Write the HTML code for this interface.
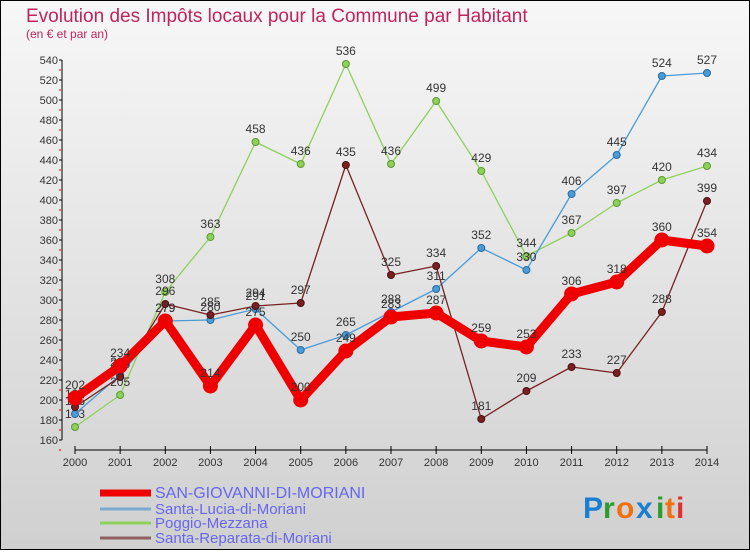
<!DOCTYPE html>
<html><head><meta charset="utf-8"><style>
body{margin:0;width:750px;height:550px;overflow:hidden;font-family:"Liberation Sans",sans-serif}
</style></head><body>
<svg id="chart" width="750" height="550" xmlns="http://www.w3.org/2000/svg">
<defs><linearGradient id="bg" x1="0" y1="0" x2="0" y2="1"><stop offset="0" stop-color="#f7f7f7"/><stop offset="1" stop-color="#d0d0d0"/></linearGradient></defs>
<rect x="0.5" y="0.5" width="749" height="549" fill="url(#bg)" stroke="#000"/>
<text x="26" y="22" font-size="19" fill="#c0245c">Evolution des Impôts locaux pour la Commune par Habitant</text>
<text x="26" y="38" font-size="12" fill="#c0245c">(en € et par an)</text>
<g id="axes"></g><g id="series"></g><g id="legend"></g>
<g font-size="30" font-weight="bold" font-family="'Liberation Sans',sans-serif">
<text x="583" y="518" fill="#1a7fd0">P</text><text x="603" y="518" fill="#2c9c2c">r</text><text x="616" y="518" fill="#f07010">o</text><text x="636" y="518" fill="#1a7fd0">x</text><text x="656" y="518" fill="#2c9c2c">i</text><text x="665" y="518" fill="#f07010">t</text><text x="676" y="518" fill="#e03030">i</text>
</g>
</svg>
<script>
const years=[2000,2001,2002,2003,2004,2005,2006,2007,2008,2009,2010,2011,2012,2013,2014];
const sanGiovanni=[202,234,279,214,275,200,249,283,287,259,253,306,318,360,354];
const santaLucia=[186,225,279,280,291,250,265,288,311,352,330,406,445,524,527];
const poggio=[173,205,308,363,458,436,536,436,499,429,344,367,397,420,434];
const santaReparata=[193,223,296,285,294,297,435,325,334,181,209,233,227,288,399];
const yTicks=[160,180,200,220,240,260,280,300,320,340,360,380,400,420,440,460,480,500,520,540];
const NS="http://www.w3.org/2000/svg";
const xS=i=>75+i*(632/14), yS=v=>600-v;
function mk(t,a,p){const e=document.createElementNS(NS,t);for(const k in a)e.setAttribute(k,a[k]);p.appendChild(e);return e;}
const ax=document.getElementById('axes');
const yl=mk('line',{x1:62,y1:yS(540),x2:62,y2:yS(160),stroke:'#000'},ax);


yTicks.forEach(v=>{
 const t=mk('text',{x:58,y:yS(v)+4,'font-size':11,fill:'#333','text-anchor':'end'},ax);t.textContent=v;
 
 
 mk('line',{x1:59,y1:yS(v),x2:62,y2:yS(v),stroke:'#000'},ax);
 mk('line',{x1:59,y1:yS(v)+10,x2:61,y2:yS(v)+10,stroke:'#e00'},ax);
});
const xl=mk('line',{x1:75,y1:450,x2:707,y2:450,stroke:'#000'},ax);


years.forEach((y,i)=>{
 mk('line',{x1:xS(i),y1:446,x2:xS(i),y2:454,stroke:'#000'},ax);
 const t=mk('text',{x:xS(i),y:466,'font-size':11,fill:'#333','text-anchor':'middle'},ax);t.textContent=y;
 
 
});
const sg=document.getElementById('series');
function draw(vals,col,w,r,name,stroke){
 const g=mk('g',{},sg);
 
 
 mk('polyline',{points:vals.map((v,i)=>xS(i)+','+yS(v)).join(' '),fill:'none',stroke:col,'stroke-width':w,'stroke-linejoin':'round'},g);
 vals.forEach((v,i)=>{
  const c=mk('circle',{cx:xS(i),cy:yS(v),r:r,fill:col,stroke:stroke,'stroke-width':1},g);
  
  
  const t=mk('text',{x:xS(i),y:yS(v)-9,'font-size':12,fill:'#333','text-anchor':'middle'},g);t.textContent=v;
  
  
 });
}
draw(poggio,'#8ed05a',1.3,3.5,'series-poggio-mezzana','#5a9a30');
draw(santaLucia,'#4a9bd6',1.3,3.5,'series-santa-lucia-di-moriani','#2a6aa0');
draw(santaReparata,'#7a2020',1.3,3.5,'series-santa-reparata-di-moriani','#4a1010');
draw(sanGiovanni,'#ee0000',9,7,'series-san-giovanni-di-moriani','#ee0000');
const lg=document.getElementById('legend');
[['SAN-GIOVANNI-DI-MORIANI','#ee0000',7,493,16],['Santa-Lucia-di-Moriani','#7aaad0',3,509,15],['Poggio-Mezzana','#8ed05a',3,523,15],['Santa-Reparata-di-Moriani','#906060',3,538,15]].forEach(d=>{
 const g=mk('g',{},lg);
 
 
 mk('line',{x1:100,y1:d[3],x2:151,y2:d[3],stroke:d[1],'stroke-width':d[2]},g);
 const t=mk('text',{x:155,y:d[3]+5,'font-size':d[4],fill:'#6666ee'},g);t.textContent=d[0];
});
</script>
</body></html>
